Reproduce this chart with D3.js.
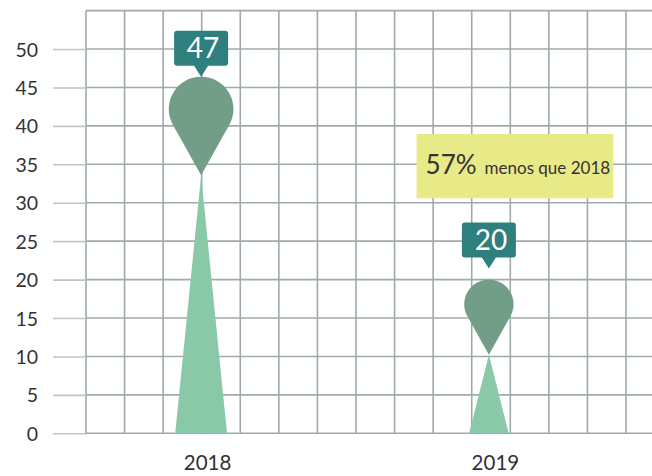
<!DOCTYPE html>
<html>
<head>
<meta charset="utf-8">
<script src="https://cdn.jsdelivr.net/npm/d3@7/dist/d3.min.js"></script>
<style>
  html, body { margin: 0; padding: 0; background: #ffffff; }
  svg { display: block; }
  text { font-family: "Lato", "Open Sans", sans-serif; }
</style>
</head>
<body>
<svg id="chart" width="652" height="476"></svg>
<script>
// Yearly totals
const categories = ["2018", "2019"];
const values = [47, 20];
const yTickValues = [0, 5, 10, 15, 20, 25, 30, 35, 40, 45, 50];
const noteSuffix = "menos que 2018";

const W = 652, H = 476;
const plot = { left: 86, right: 652, top: 10.6, bottom: 433.3 };

const svg = d3.select("#chart");

const y = d3.scaleLinear().domain([0, 55]).range([plot.bottom, plot.top]);
const x = d3.scalePoint().domain(categories).range([plot.left, 604]).padding(0.4);
// square background grid columns
const gridX = d3.scaleLinear().domain([0, 14]).range([plot.left, 626]);
// pin radius grows with the value
const rScale = d3.scaleLinear().domain([0, 50]).range([19, 33.2]);

const gridColor = "#9fabaa";
const tickColor = "#bcc6c5";
const textColor = "#333333";

// ---- grid ----
const g = svg.append("g");
g.selectAll("line.h").data(d3.range(0, 56, 5)).join("line")
  .attr("class", "h")
  .attr("x1", plot.left).attr("x2", plot.right)
  .attr("y1", d => y(d)).attr("y2", d => y(d))
  .attr("stroke", gridColor).attr("stroke-width", 1.6);

g.selectAll("line.v").data(d3.range(15)).join("line")
  .attr("class", "v")
  .attr("x1", d => gridX(d)).attr("x2", d => gridX(d))
  .attr("y1", y(55)).attr("y2", y(0))
  .attr("stroke", gridColor).attr("stroke-width", 1.6);

// ---- y axis ----
const yAxis = d3.axisLeft(y).tickValues(yTickValues).tickSize(33).tickPadding(15);
const ya = svg.append("g").attr("transform", `translate(${plot.left},0)`).call(yAxis);
ya.select(".domain").remove();
ya.selectAll(".tick line").attr("stroke", tickColor).attr("stroke-width", 1.6);
ya.selectAll(".tick text")
  .attr("fill", textColor)
  .style("font-size", "19.5px")
  .attr("dy", "0.36em");

// ---- x axis labels ----
const xAxis = d3.axisBottom(x).tickSize(0).tickPadding(22);
const xa = svg.append("g").attr("transform", `translate(0,${plot.bottom})`).call(xAxis);
xa.select(".domain").remove();
xa.selectAll(".tick text")
  .attr("fill", textColor)
  .attr("dx", 6)
  .style("font-size", "20.5px");

// ---- marks ----
const rMin = rScale(d3.min(values));
const marks = categories.map((c, i) => {
  const v = values[i];
  const r = rScale(v);
  const shift = r - rMin;
  const top = y(v) + 0.6 * shift;
  const cy = top + r;
  const tipY = cy + 2.05 * r;
  const labelTip = top - 11 + 1.43 * shift;
  return { c, v, r, cx: x(c), top, cy, tipY, labelTip };
});

const markG = svg.append("g");

// spike from the baseline up to the pin tip
markG.selectAll("path.spike").data(marks).join("path")
  .attr("class", "spike")
  .attr("d", d => {
    const half = 0.8 * d.r;
    return `M${d.cx - half},${y(0)} L${d.cx},${d.tipY} L${d.cx + half},${y(0)} Z`;
  })
  .attr("fill", "#89c9a8");

// pin head
markG.selectAll("path.pin").data(marks).join("path")
  .attr("class", "pin")
  .attr("d", d => {
    const dist = d.tipY - d.cy;
    const cosT = d.r / dist;
    const sinT = Math.sqrt(1 - cosT * cosT);
    const lx = d.cx - d.r * sinT, rx = d.cx + d.r * sinT;
    const ty = d.cy + d.r * cosT;
    return `M${d.cx},${d.tipY} L${lx},${ty} A${d.r},${d.r} 0 1 1 ${rx},${ty} Z`;
  })
  .attr("fill", "#729e87");

// value callouts
const boxW = 54, boxH = 35, ptrW = 7, ptrH = 11, rad = 3;
const callout = markG.selectAll("g.callout").data(marks).join("g").attr("class", "callout");
callout.append("path")
  .attr("d", d => {
    const l = d.cx - boxW / 2, rr = d.cx + boxW / 2;
    const b = d.labelTip - ptrH, t = b - boxH;
    return `M${l + rad},${t} H${rr - rad} Q${rr},${t} ${rr},${t + rad} V${b - rad} Q${rr},${b} ${rr - rad},${b}` +
           ` H${d.cx + ptrW} L${d.cx},${d.labelTip} L${d.cx - ptrW},${b} H${l + rad} Q${l},${b} ${l},${b - rad}` +
           ` V${t + rad} Q${l},${t} ${l + rad},${t} Z`;
  })
  .attr("fill", "#2e7f7d");
callout.append("text")
  .attr("x", d => d.cx + 2)
  .attr("y", d => d.labelTip - ptrH - boxH / 2 + 10)
  .attr("text-anchor", "middle")
  .attr("fill", "#ffffff")
  .style("font-size", "28px")
  .text(d => d.v);

// ---- change note ----
const change = Math.round((values[0] - values[1]) / values[0] * 100);
const note = svg.append("g");
note.append("rect")
  .attr("x", gridX(8.57)).attr("y", y(38.94))
  .attr("width", gridX(13.67) - gridX(8.57))
  .attr("height", y(30.58) - y(38.94))
  .attr("fill", "#e8e987");
const noteText = note.append("text")
  .attr("x", gridX(8.57) + 9)
  .attr("y", y(33.8))
  .attr("fill", textColor);
noteText.append("tspan").style("font-size", "26px").text(change + "%");
noteText.append("tspan").attr("dx", 8).style("font-size", "17px").text(noteSuffix);
</script>
</body>
</html>
